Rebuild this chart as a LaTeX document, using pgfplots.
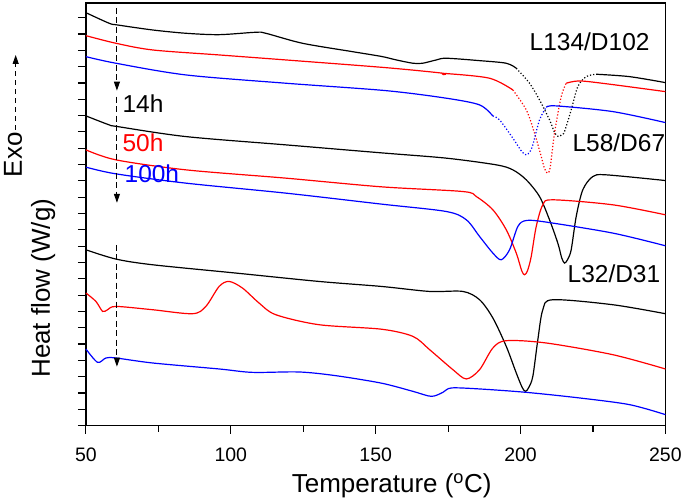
\documentclass[border=0pt]{standalone}
\usepackage{fontspec}
\setmainfont{Liberation Sans}
\usepackage{pgfplots}
\pgfplotsset{compat=1.18}
\usetikzlibrary{arrows.meta}

% y values are arbitrary heat-flow units (curves offset as in the original)
\begin{document}
\begin{tikzpicture}
\begin{axis}[
    scale only axis,
    width=580pt, height=423pt,
    xmin=50, xmax=250, ymin=0, ymax=423,
    xtick={50,100,150,200,250},
    minor xtick={75,125,175,225},
    ytick={0,16.33,...,409},
    yticklabels={},
    tick align=outside,
    xtick pos=bottom, ytick pos=left,
    major tick length=8pt, minor tick length=6pt,
    tick style={line width=1.1pt, black},
    axis line style={line width=1.3pt},
    ticklabel style={font=\fontsize{19.5}{22}\selectfont},
    xticklabel style={yshift=-11pt},
    /pgf/number format/assume math mode=true,
    xlabel={Temperature (\textsuperscript{o}C)},
    xlabel style={font=\fontsize{26}{30}\selectfont, at={(rel axis cs:0.5,0)},
        anchor=center, yshift=-60pt, xshift=16pt},
    clip=false,
    every axis plot/.append style={line width=1.2pt, smooth, tension=0.5},
]
% ---- L134/D102 (dip sections are sparse in the original: dotted) ----
\addplot[black] coordinates {
(50,413.3) (58.03,402.7) (60.93,401) (73.0,396) (84.48,392.7) (95.97,391.3)
(108.62,393.7) (112.07,392.7) (124.72,382.7) (141.97,374.3) (152,369.5)
(157.14,366) (162.86,362.7) (166.21,362.7) (170.93,366) (174.38,367.7)
(185.86,365.3) (195.07,362.7) (198.52,357.7)
};
\addplot[black, dotted] coordinates {
(198.52,357.7) (203.1,342.7) (206.55,326)
(210,306) (211.8,293) (213.1,289.3) (214.3,291.5) (215.17,294.3) (217.48,316)
(219.76,339.3) (222.66,349.3) (226.1,351.7)
};
\addplot[black] coordinates {
(226.1,351.7) (237.59,349.3) (250,343.3)
};
\addplot[red] coordinates {
(50,390.3) (60.34,382.7) (73.0,376) (95.97,371) (118.97,366) (153.45,358.3)
(172.9,352.8) (173.4,351.3) (174.2,352.4) (189.31,347.7) (197.34,336)
};
\addplot[red, dotted] coordinates {
(197.34,336) (201.97,316) (204.83,292.7) (207.14,269.3) (208.2,258) (209.21,252.7)
(210.2,258) (211.72,292.7) (214.03,329.3) (215.76,342.7)
};
\addplot[red] coordinates {
(215.76,342.7) (220.34,345) (230,342) (250,334.3)
};
\addplot[blue] coordinates {
(50,369.3) (60.34,362.7) (84.48,351) (118.97,342.7) (153.45,335.3)
(174.38,327.7) (185.86,321) (190.4,310)
};
\addplot[blue, dotted] coordinates {
(190.4,310) (192.76,306) (197.34,287.7) (200.5,274)
(201.97,271) (203.2,274) (204.24,281) (206.55,306) (208.86,318.7)
};
\addplot[blue] coordinates {
(208.86,318.7) (212.31,320) (231.83,314.3) (250,303.3)
};
% ---- L58/D67 ----
\addplot[black] coordinates {
(50,310) (58.03,301) (60.93,299.3) (84.48,289.3) (118.97,281) (152,273)
(174.38,267.7) (191.62,261) (197.34,256) (201.97,246) (206.55,229.3)
(210,206) (212.86,182.7) (214.2,168) (215.17,162.7) (216.2,166) (217.48,176)
(219.21,209.3) (221.48,236) (224.93,249.3) (229.55,251) (250,245.3)
};
\addplot[red] coordinates {
(50,276) (60.34,266) (84.48,256) (118.97,247.7) (152,239) (180.1,234.3)
(184.72,229.3) (190.45,216) (195.07,196) (198.52,172.7) (200.4,155)
(201.38,151) (202.4,155) (203.69,169.3) (205.41,199.3) (207.69,221)
(211.14,226) (231.83,221) (250,211)
};
\addplot[blue] coordinates {
(50,258.7) (60.34,252) (84.48,242.7) (118.97,232.7) (152,221.7)
(174.38,214.3) (181.28,206) (185.86,189.3) (190.45,172.7) (193.34,166)
(196.21,176) (199.07,199.3) (201.97,205.3) (208.86,203.7) (231.83,192.7)
(250,180)
};
% ---- L32/D31 ----
\addplot[black] coordinates {
(50,176) (60.34,166.7) (73.0,161) (101.72,152.7) (130.45,144.3) (152,139.3)
(168.62,134.3) (180.1,134.3) (185.86,126) (190.45,107.7) (195.07,79.3)
(198.52,52.7) (200.6,38) (201.72,34.3) (202.8,38) (204.24,49.3) (205.97,86)
(207.69,116) (211.14,126) (231.83,121) (250,112)
};
\addplot[red] coordinates {
(50,132.7) (53.45,124.3) (55.76,114.3) (57.48,116) (60.34,119.3) (73.0,116)
(86.79,112) (91.38,119.3) (95.97,139.3) (99.41,144.3) (104.03,137.7)
(109.76,122.7) (115.52,111) (130.45,101) (152,96.5) (162.86,89.3)
(168.62,76) (176.66,56) (181.28,46.7) (185.86,56) (190.45,77.7) (195.07,85)
(208.86,82.7) (231.83,71) (250,56.7)
};
\addplot[blue] coordinates {
(50,76.7) (54.03,63.3) (56.9,67.7) (60.34,67.7) (73.0,62.7) (95.97,56.7)
(107.48,53.3) (123.55,53.7) (136.21,50) (152,42.5) (162.86,34.3)
(169.21,29.3) (173.21,33.3) (176.1,37.7) (185.86,36.7) (201.97,33.3)
(220.34,27.7) (237.59,21) (250,11)
};

% ageing-time arrows and labels
\begin{scope}[line width=1pt, dash pattern=on 6pt off 3.5pt,
    -{Triangle[width=6pt,length=9pt]}]
\draw (axis cs:60.7,418) -- (axis cs:60.7,335.3);
\draw (axis cs:60.7,329.3) -- (axis cs:60.7,223);
\draw (axis cs:60.7,181) -- (axis cs:60.7,59);
\end{scope}
\begin{scope}[font=\fontsize{24.5}{28}\selectfont, inner sep=0pt]
\node[anchor=west, black] at (axis cs:62.6,322) {14h};
\node[anchor=west, red] at (axis cs:62.6,283.5) {50h};
\node[anchor=west, blue] at (axis cs:63.3,252) {100h};
\node[anchor=west] at (axis cs:203.1,384.5) {L134/D102};
\node[anchor=west] at (axis cs:217.9,283.5) {L58/D67};
\node[anchor=west] at (axis cs:216.2,152) {L32/D31};
\end{scope}
\end{axis}
% y-axis title and exotherm direction
\node[rotate=90, anchor=base, font=\fontsize{26}{30}\selectfont] at (-36pt,137.5pt) {Heat flow (W/g)};
\node[rotate=90, anchor=base, font=\fontsize{26}{30}\selectfont] at (-64pt,271pt) {Exo};
\draw[line width=1pt, dash pattern=on 5pt off 4pt, -{Triangle[width=6pt,length=9pt]}]
    (-70.3pt,296pt) -- (-70.3pt,371pt);
\path (-86pt,-76pt) rectangle (599pt,426pt);
\end{tikzpicture}
\end{document}
